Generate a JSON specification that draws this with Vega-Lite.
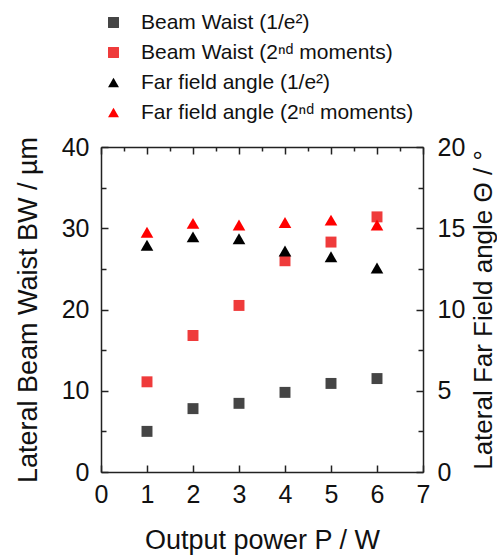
{
  "$schema": "https://vega.github.io/schema/vega-lite/v6.json",
  "width": 322,
  "height": 325,
  "autosize": {"type": "none"},
  "padding": {"left": 101, "top": 147, "right": 74, "bottom": 84},
  "config": {
    "font": "Liberation Sans",
    "view": {"stroke": null},
    "axis": {
      "domainColor": "#222",
      "domainWidth": 1.5,
      "tickColor": "#222",
      "tickWidth": 1.5,
      "labelColor": "#111",
      "titleColor": "#111",
      "labelFont": "Liberation Sans",
      "titleFont": "Liberation Sans",
      "labelFontSize": 25,
      "titleFontSize": 27,
      "titleFontWeight": "normal",
      "grid": false
    },
    "legend": {
      "labelFont": "Liberation Sans",
      "labelFontSize": 21,
      "labelColor": "#111",
      "labelLimit": 0
    }
  },
  "data": {
    "values": [
      {"P": 1, "series": "Beam Waist (1/e²)", "kind": "bw", "value": 5.0},
      {"P": 2, "series": "Beam Waist (1/e²)", "kind": "bw", "value": 7.8},
      {"P": 3, "series": "Beam Waist (1/e²)", "kind": "bw", "value": 8.45},
      {"P": 4, "series": "Beam Waist (1/e²)", "kind": "bw", "value": 9.8},
      {"P": 5, "series": "Beam Waist (1/e²)", "kind": "bw", "value": 10.9},
      {"P": 6, "series": "Beam Waist (1/e²)", "kind": "bw", "value": 11.5},
      {"P": 1, "series": "Beam Waist (2ⁿᵈ moments)", "kind": "bw", "value": 11.1},
      {"P": 2, "series": "Beam Waist (2ⁿᵈ moments)", "kind": "bw", "value": 16.8},
      {"P": 3, "series": "Beam Waist (2ⁿᵈ moments)", "kind": "bw", "value": 20.5},
      {"P": 4, "series": "Beam Waist (2ⁿᵈ moments)", "kind": "bw", "value": 26.0},
      {"P": 5, "series": "Beam Waist (2ⁿᵈ moments)", "kind": "bw", "value": 28.3},
      {"P": 6, "series": "Beam Waist (2ⁿᵈ moments)", "kind": "bw", "value": 31.4},
      {"P": 1, "series": "Far field angle (1/e²)", "kind": "angle", "value": 13.95},
      {"P": 2, "series": "Far field angle (1/e²)", "kind": "angle", "value": 14.47},
      {"P": 3, "series": "Far field angle (1/e²)", "kind": "angle", "value": 14.35},
      {"P": 4, "series": "Far field angle (1/e²)", "kind": "angle", "value": 13.6},
      {"P": 5, "series": "Far field angle (1/e²)", "kind": "angle", "value": 13.24},
      {"P": 6, "series": "Far field angle (1/e²)", "kind": "angle", "value": 12.56},
      {"P": 1, "series": "Far field angle (2ⁿᵈ moments)", "kind": "angle", "value": 14.75},
      {"P": 2, "series": "Far field angle (2ⁿᵈ moments)", "kind": "angle", "value": 15.3},
      {"P": 3, "series": "Far field angle (2ⁿᵈ moments)", "kind": "angle", "value": 15.2},
      {"P": 4, "series": "Far field angle (2ⁿᵈ moments)", "kind": "angle", "value": 15.35},
      {"P": 5, "series": "Far field angle (2ⁿᵈ moments)", "kind": "angle", "value": 15.5},
      {"P": 6, "series": "Far field angle (2ⁿᵈ moments)", "kind": "angle", "value": 15.2}
    ]
  },
  "encoding": {
    "color": {
      "field": "series",
      "type": "nominal",
      "scale": {
        "domain": ["Beam Waist (1/e²)", "Beam Waist (2ⁿᵈ moments)", "Far field angle (1/e²)", "Far field angle (2ⁿᵈ moments)"],
        "range": ["#454545", "#ef3b3b", "#000000", "#ff0000"]
      },
      "legend": {
        "title": null,
        "orient": "none",
        "legendX": 2,
        "legendY": -135,
        "symbolSize": 120,
        "symbolOpacity": 1,
        "symbolStrokeWidth": 0,
        "rowPadding": 8,
        "labelOffset": 17,
        "labelLimit": 0
      }
    },
    "shape": {
      "field": "series",
      "type": "nominal",
      "scale": {
        "domain": ["Beam Waist (1/e²)", "Beam Waist (2ⁿᵈ moments)", "Far field angle (1/e²)", "Far field angle (2ⁿᵈ moments)"],
        "range": ["square", "square", "triangle-up", "triangle-up"]
      },
      "legend": {
        "title": null,
        "orient": "none",
        "legendX": 2,
        "legendY": -135,
        "symbolSize": 120,
        "symbolOpacity": 1,
        "symbolStrokeWidth": 0,
        "rowPadding": 8,
        "labelOffset": 17,
        "labelLimit": 0
      }
    }
  },
  "layer": [
    {
      "transform": [{"filter": "datum.kind === 'bw'"}],
      "mark": {"type": "point", "filled": true, "opacity": 1, "size": 120},
      "encoding": {
        "x": {
          "field": "P",
          "type": "quantitative",
          "scale": {"domain": [0, 7], "nice": false},
          "axis": {
            "orient": "bottom",
            "title": "Output power P / W",
            "format": "d",
            "values": [0, 0.5, 1, 1.5, 2, 2.5, 3, 3.5, 4, 4.5, 5, 5.5, 6, 6.5, 7],
            "labelExpr": "datum.value % 1 === 0 ? datum.label : ''",
            "tickSize": {"condition": {"test": "datum.value % 1 === 0", "value": -7}, "value": -4},
            "labelPadding": 17,
            "titlePadding": 20,
            "labelFlush": false
          }
        },
        "y": {
          "field": "value",
          "type": "quantitative",
          "scale": {"domain": [0, 40], "nice": false},
          "axis": {
            "orient": "left",
            "title": "Lateral Beam Waist BW / µm",
            "values": [0, 5, 10, 15, 20, 25, 30, 35, 40],
            "labelExpr": "datum.value % 10 === 0 ? datum.label : ''",
            "tickSize": {"condition": {"test": "datum.value % 10 === 0", "value": -7}, "value": -5},
            "labelPadding": 19,
            "titlePadding": 19,
            "labelFlush": false
          }
        }
      }
    },
    {
      "transform": [{"filter": "datum.kind === 'angle'"}],
      "mark": {"type": "point", "filled": true, "opacity": 1, "size": 160},
      "encoding": {
        "x": {
          "field": "P",
          "type": "quantitative",
          "scale": {"domain": [0, 7], "nice": false},
          "axis": {
            "orient": "top",
            "title": null,
            "values": [0, 0.5, 1, 1.5, 2, 2.5, 3, 3.5, 4, 4.5, 5, 5.5, 6, 6.5, 7],
            "labels": false,
            "tickSize": {"condition": {"test": "datum.value % 1 === 0", "value": -7}, "value": -4}
          }
        },
        "y": {
          "field": "value",
          "type": "quantitative",
          "scale": {"domain": [0, 20], "nice": false},
          "axis": {
            "orient": "right",
            "title": "Lateral Far Field angle Θ / °",
            "titleAngle": 270,
            "titleBaseline": "top",
            "titleFontSize": 26,
            "values": [0, 2.5, 5, 7.5, 10, 12.5, 15, 17.5, 20],
            "labelExpr": "datum.value % 5 === 0 ? datum.label : ''",
            "tickSize": {"condition": {"test": "datum.value % 5 === 0", "value": -7}, "value": -5},
            "labelPadding": 21,
            "titlePadding": 6,
            "labelFlush": false
          }
        }
      }
    }
  ],
  "resolve": {"scale": {"y": "independent"}, "axis": {"x": "independent", "y": "independent"}}
}
